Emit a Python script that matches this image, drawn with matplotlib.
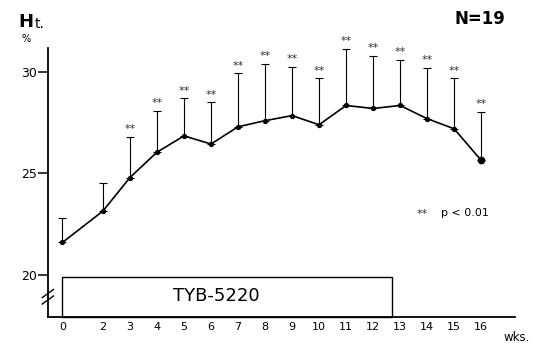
import numpy as np
import matplotlib
matplotlib.use('Agg')
import matplotlib.pyplot as plt
from matplotlib.patches import Rectangle

# --- dados -------------------------------------------------------------------
WEEKS = [0, 2, 3, 4, 5, 6, 7, 8, 9, 10, 11, 12, 13, 14, 15, 16]
# eixo x comprimido entre 0 e 2 semanas (como no original)
X_POS = [0.5, 2, 3, 4, 5, 6, 7, 8, 9, 10, 11, 12, 13, 14, 15, 16]
HT_MEAN = [21.6, 23.15, 24.8, 26.05, 26.85, 26.45, 27.3, 27.6, 27.85,
           27.4, 28.35, 28.2, 28.35, 27.7, 27.2, 25.65]
HT_TOP = [22.8, 24.55, 26.8, 28.1, 28.7, 28.5, 29.95, 30.4, 30.25,
          29.7, 31.15, 30.8, 30.6, 30.2, 29.7, 28.05]
SIGNIF = [False, False] + [True] * 14
Y_TICKS = [20, 25, 30]
DRUG = 'TYB-5220'
DRUG_START, DRUG_END = 0.5, 12.7


def main():
    fig = plt.figure(figsize=(5.44, 3.43), dpi=100)
    ax = fig.add_axes([0.088, 0.076, 0.859, 0.784])
    ax.set_xlim(-0.04, 17.26)
    ax.set_ylim(17.93, 31.18)

    x = np.array(X_POS)
    mean = np.array(HT_MEAN)
    top = np.array(HT_TOP)

    # barras de erro só para cima
    ax.errorbar(x, mean, yerr=[np.zeros_like(mean), top - mean], fmt='none',
                ecolor='black', elinewidth=0.8, capsize=3, capthick=0.8)
    ax.plot(x, mean, color='black', lw=1.2, marker='o', ms=2.8, zorder=3)
    ax.plot(x[-1:], mean[-1:], 'o', color='black', ms=4.5, zorder=4)

    for xi, ti, s in zip(x, top, SIGNIF):
        if s:
            ax.text(xi, ti + 0.12, '**', ha='center', va='bottom',
                    fontsize=8, color='#333333')

    # barra do período de tratamento
    ylo = ax.get_ylim()[0]
    ax.add_patch(Rectangle((DRUG_START, ylo), DRUG_END - DRUG_START,
                           19.92 - ylo, fill=False, ec='black', lw=1.0,
                           clip_on=False))
    ax.text((DRUG_START + DRUG_END) / 2 - 0.4, 18.95, DRUG, ha='center',
            va='center', fontsize=13)

    ax.spines['top'].set_visible(False)
    ax.spines['right'].set_visible(False)
    ax.spines['left'].set_linewidth(1.3)
    ax.spines['bottom'].set_linewidth(1.3)
    ax.set_yticks(Y_TICKS)
    ax.set_yticklabels([str(v) for v in Y_TICKS], fontsize=9)
    ax.tick_params(axis='y', length=7, width=1.1, pad=1)
    ax.set_xticks(X_POS)
    ax.set_xticklabels([str(w) for w in WEEKS], fontsize=8)
    ax.tick_params(axis='x', length=0, pad=4)

    # quebra do eixo y
    for dy in (-0.012, 0.012):
        ax.plot([-0.012, 0.012], [0.075 + dy - 0.015, 0.075 + dy + 0.015],
                transform=ax.transAxes, color='black', lw=1.0, clip_on=False)

    fig.text(0.033, 0.935, 'H', fontsize=13, fontweight='bold', va='center')
    fig.text(0.064, 0.93, 't.', fontsize=10, va='center')
    fig.text(0.04, 0.885, '%', fontsize=7, va='center')
    fig.text(0.835, 0.945, 'N=19', fontsize=12, fontweight='bold',
             va='center')
    fig.text(0.765, 0.375, '**', fontsize=8, color='#333333', va='center')
    fig.text(0.81, 0.378, 'p < 0.01', fontsize=8, va='center')
    fig.text(0.925, 0.015, 'wks.', fontsize=8.5, va='center')

    fig.savefig('out.png', dpi=100)


if __name__ == '__main__':
    main()
